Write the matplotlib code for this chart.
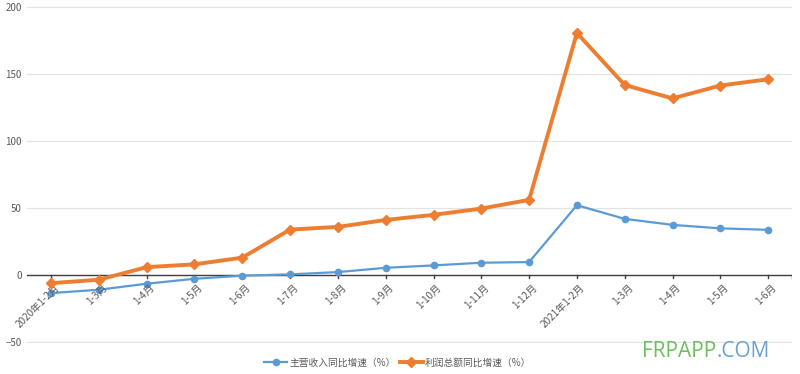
import matplotlib
matplotlib.use("Agg")
import matplotlib.pyplot as plt
import numpy as np

plt.rcParams['font.family'] = ['Noto Sans CJK SC', 'DejaVu Sans']

# categories (2020 1-2 .. 2021 1-6)
months = ['2020年1-2月', '1-3月', '1-4月', '1-5月', '1-6月', '1-7月', '1-8月', '1-9月',
          '1-10月', '1-11月', '1-12月', '2021年1-2月', '1-3月', '1-4月', '1-5月', '1-6月']

# 主营收入同比增速（%）
revenue = [-13.7, -11.2, -6.7, -3.0, -0.7, 0.3, 2.0, 5.2, 7.0, 9.0, 9.5,
           52.0, 41.8, 37.3, 34.7, 33.6]
# 利润总额同比增速（%）
profit = [-6.3, -3.7, 5.7, 7.8, 12.8, 33.8, 35.8, 41.0, 44.8, 49.5, 56.0,
          180.8, 141.9, 131.9, 141.5, 146.2]

blue = '#5B9BD5'
orange = '#ED7D31'

fig = plt.figure(figsize=(8, 3.74), dpi=100)
ax = fig.add_axes([0.034, 0.083, 0.956, 0.901])

x = np.arange(len(months))
ax.plot(x, revenue, color=blue, lw=1.6, marker='o', ms=4.5,
        label='主营收入同比增速（%）', zorder=3)
ax.plot(x, profit, color=orange, lw=2.8, marker='D', ms=5,
        label='利润总额同比增速（%）', zorder=4)

ax.set_xlim(-0.5, len(months) - 0.5)
ax.set_ylim(-51, 201)
ax.set_yticks([-50, 0, 50, 100, 150, 200])
ax.tick_params(axis='y', length=0, labelsize=7, colors='#595959', pad=4)
ax.grid(axis='y', color='#e3e3e3', lw=0.9)
ax.set_axisbelow(True)
for s in ax.spines.values():
    s.set_visible(False)

# zero axis with tick marks
ax.axhline(0, color='#404040', lw=1.0, zorder=2)
ax.set_xticks([])
for xi, lab in zip(x, months):
    ax.plot([xi, xi], [0, -2.5], color='#404040', lw=1.0, zorder=2)
    ax.text(xi + 0.06, -5.5, lab, rotation=45, ha='right', va='top',
            rotation_mode='anchor', fontsize=7.2, color='#595959')
ax.plot([15.5, 15.5], [0, -2.5], color='#404040', lw=1.0, zorder=2)

leg = fig.legend(loc='center', bbox_to_anchor=(0.497, 0.03), ncol=2, frameon=False,
                 fontsize=7, labelcolor='#595959', handlelength=2.4,
                 columnspacing=0.4, handletextpad=0.2)

# watermark
t1 = fig.text(0.803, 0.06, 'FRPAPP', color='#6CBF5E', fontsize=15,
              family='Open Sans', va='center', ha='left')
fig.canvas.draw()
bb = t1.get_window_extent()
fig.text(bb.x1 / fig.bbox.width, 0.06, '.COM', color='#6A9FD3', fontsize=15,
         family='Open Sans', va='center', ha='left')

fig.savefig('out.png', dpi=100)
